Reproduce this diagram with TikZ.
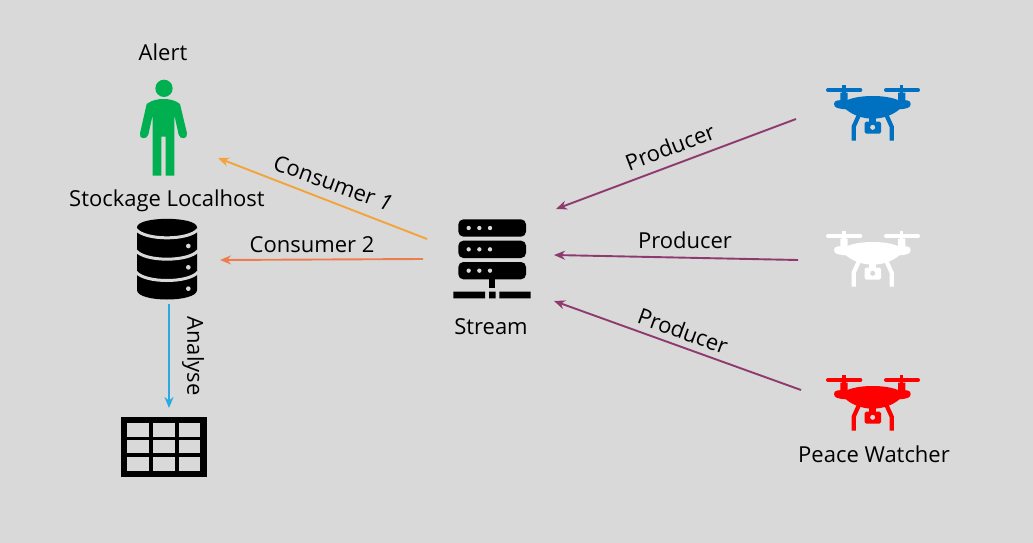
\documentclass[tikz,border=0pt]{standalone}
\usepackage{fontspec}
\setmainfont{Open Sans}
\usetikzlibrary{arrows.meta}
\definecolor{bgc}{HTML}{D9D9D9}
\definecolor{purp}{HTML}{8E3A6E}
\definecolor{oranga}{HTML}{F2A33A}
\definecolor{orangb}{HTML}{ED7D4E}
\definecolor{bluea}{HTML}{29ABE2}
\definecolor{dblue}{HTML}{0070C0}
\definecolor{pgreen}{HTML}{00B050}
\tikzset{
  lbl/.style={font=\fontsize{22}{26}\selectfont,text=black,inner sep=0pt},
  conn/.style={line width=1.9pt,-{Stealth[length=11pt,width=9pt]}},
  icon/.style={x=0.33333pt,y=-0.33333pt,shift={#1}}
}
\newcommand{\dronepic}[3]{%
\begin{scope}[x=0.33333pt,y=-0.33333pt,shift={(#1pt,-#2pt)},#3]
  \draw[line width=4pt,line cap=round] (54,60) -- (151,60) (228,60) -- (324,60);
  \draw[line width=3.4pt] (102,46) -- (102,80) (275,46) -- (275,80);
  \fill (91,68) rectangle (113,100) (264,68) rectangle (286,100);
  \fill (72,102) .. controls (72,90) and (85,90) .. (112,90) .. controls (150,74) and (226,74) .. (264,90)
     .. controls (290,90) and (302,90) .. (302,102) .. controls (302,114) and (290,116) .. (268,118)
     .. controls (250,134) and (220,146) .. (188,146) .. controls (156,146) and (126,134) .. (108,118)
     .. controls (85,116) and (72,114) .. cycle;
  \draw[line width=4.2pt] (150,128) -- (131,170) -- (131,212) (226,128) -- (245,170) -- (245,212);
  \fill (178,130) rectangle (198,156);
  \fill[rounded corners=1.5pt] (164,155) rectangle (213,191);
  \fill[bgc] (188,172) circle (7.5);
\end{scope}}
\begin{document}
\begin{tikzpicture}[x=1pt,y=-1pt]
\useasboundingbox (0,0) rectangle (1033,543);
\fill[bgc] (0,0) rectangle (1033,543);

% anchors for connectors
\coordinate (c1s) at (427,239);
\coordinate (c1e) at (218,158);
\coordinate (c2s) at (423,259);
\coordinate (c2e) at (220,260);
\coordinate (ans) at (169,304);
\coordinate (ane) at (169,408);
\coordinate (p1s) at (796,119);
\coordinate (p1e) at (556,209);
\coordinate (p2s) at (798,260);
\coordinate (p2e) at (554,255);
\coordinate (p3s) at (801,390);
\coordinate (p3e) at (554,301);

% person
\begin{scope}[icon={(120pt,-70pt)}]
  \fill[pgreen] (132,55) circle (26);
  \fill[pgreen] (80,102) .. controls (95,90) and (115,87) .. (130,87) .. controls (148,87) and (165,90) .. (180,102)
     -- (201,190) .. controls (204,208) and (180,210) .. (176,194)
     -- (163,135) -- (163,317) -- (137,317) -- (137,200) -- (124,200) -- (124,317) -- (98,317) -- (98,135)
     -- (85,194) .. controls (80,210) and (56,208) .. (60,190)
     -- cycle;
\end{scope}

% database
\begin{scope}[icon={(120pt,-210pt)}]
  \fill[black] (51,52) .. controls (51,18) and (231,18) .. (231,52) -- (231,240)
     .. controls (231,278) and (51,278) .. (51,240) -- cycle;
  \draw[bgc,line width=3pt] (48,58) .. controls (75,92) and (207,92) .. (234,58)
     (48,122) .. controls (75,156) and (207,156) .. (234,122)
     (48,186) .. controls (75,220) and (207,220) .. (234,186);
  \fill[bgc] (205,108) circle (7) (205,172) circle (7) (205,236) circle (7);
\end{scope}

% server
\begin{scope}[icon={(440pt,-210pt)}]
  \fill[black,rounded corners=5pt] (55,28) rectangle (258,80);
  \fill[black,rounded corners=5pt] (55,92) rectangle (258,144);
  \fill[black,rounded corners=5pt] (55,156) rectangle (258,208);
  \foreach \y in {54,118,182} \foreach \x in {86,118,150} \fill[bgc] (\x,\y) circle (6.5);
  \fill[black] (146,208) rectangle (166,235);
  \fill[black] (40,245) rectangle (135,265) (147,245) rectangle (167,265) (178,245) rectangle (272,265);
\end{scope}

% table
\begin{scope}[icon={(110pt,-405pt)}]
  \fill[black] (34,37) rectangle (290,215);
  \foreach \y/\yy in {55/95,106/145,157/197}
    \foreach \x/\xx in {52/117,129/194,206/271}
      \fill[bgc] (\x,\y) rectangle (\xx,\yy);
\end{scope}

% drones
\dronepic{810}{70}{dblue,color=dblue}
\dronepic{810}{216}{white,color=white}
\dronepic{810}{360}{red,color=red}

% connectors
\draw[conn,oranga] (c1s) -- (c1e);
\draw[conn,orangb] (c2s) -- (c2e);
\draw[conn,bluea] (ans) -- (ane);
\draw[conn,purp] (p1s) -- (p1e);
\draw[conn,purp] (p2s) -- (p2e);
\draw[conn,purp] (p3s) -- (p3e);

% labels
\node[lbl] (alert) at (163,52) {Alert};
\node[lbl] (stock) at (167,201) {Stockage Localhost};
\node[lbl] (stream) at (491,327) {Stream};
\node[lbl] (peace) at (874,454) {Peace Watcher};
\node[lbl,rotate=-20] (cons1) at (333,183) {Consumer \textit{1}};
\node[lbl] (cons2) at (312,245) {Consumer 2};
\node[lbl,rotate=-90] (analyse) at (193,356) {Analyse};
\node[lbl,rotate=21] (prod1) at (670,147) {Producer};
\node[lbl] (prod2) at (685,240) {Producer};
\node[lbl,rotate=-20] (prod3) at (683,331) {Producer};
\end{tikzpicture}
\end{document}
